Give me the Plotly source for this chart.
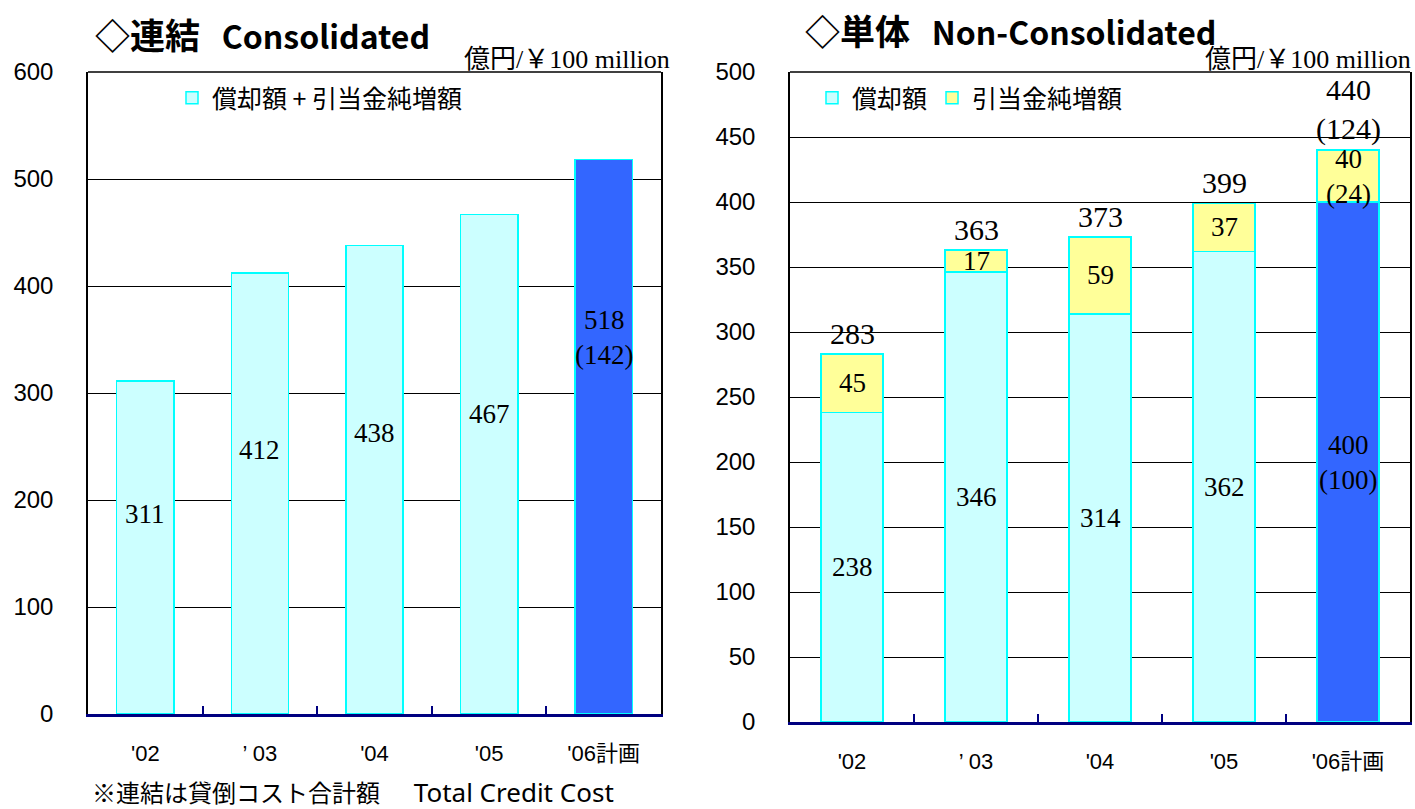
import plotly.graph_objects as go

# ---- data ----
years = ["'02", "’ 03", "'04", "'05", "'06計画"]

cons_total = [311, 412, 438, 467, 518]
cons_note = ["", "", "", "", "(142)"]

nc_amort = [238, 346, 314, 362, 400]
nc_reserve = [45, 17, 59, 37, 40]
nc_total = [283, 363, 373, 399, 440]
nc_amort_note = ["", "", "", "", "(100)"]
nc_reserve_note = ["", "", "", "", "(24)"]
nc_total_note = ["", "", "", "", "(124)"]

cons_legend = "償却額 + 引当金純増額"
nc_legend = ["償却額", "引当金純増額"]
cons_title = ("◇連結", "Consolidated")
nc_title = ("◇単体", "Non-Consolidated")
unit_label = "億円/￥100 million"
footnote = ("※連結は貸倒コスト合計額", "Total Credit Cost")

# ---- styles ----
W, H = 1415, 809
LIGHT = "#CCFFFF"
BLUE = "#3366FF"
YELLOW = "#FFFF99"
EDGE = "#00FFFF"
NAVY = "#000080"
SANS = "Liberation Sans, Noto Sans CJK JP, sans-serif"
CJK = "Noto Sans CJK JP, sans-serif"
SERIF = "Liberation Serif, Noto Sans CJK JP, serif"

plan_colors_cons = [LIGHT] * (len(years) - 1) + [BLUE]
plan_colors_nc = [LIGHT] * (len(years) - 1) + [BLUE]

fig = go.Figure()

fig.add_trace(go.Bar(
    x=years, y=cons_total, name=cons_legend, width=0.5,
    marker=dict(color=plan_colors_cons, line=dict(color=EDGE, width=1.5)),
    xaxis="x", yaxis="y", legend="legend", hoverinfo="skip",
))
fig.add_trace(go.Bar(
    x=years, y=nc_amort, name=nc_legend[0], width=0.5,
    marker=dict(color=plan_colors_nc, line=dict(color=EDGE, width=1.5)),
    xaxis="x2", yaxis="y2", legend="legend2", hoverinfo="skip",
))
fig.add_trace(go.Bar(
    x=years, y=nc_reserve, name=nc_legend[1], width=0.5,
    marker=dict(color=YELLOW, line=dict(color=EDGE, width=1.5)),
    xaxis="x2", yaxis="y2", legend="legend2", hoverinfo="skip",
))

def px_x(p):
    return p / W

def px_y(p):
    return 1 - p / H

xdom1 = [px_x(88), px_x(661)]
xdom2 = [px_x(790), px_x(1410)]
ydom1 = [px_y(714), px_y(72)]
ydom2 = [px_y(722), px_y(72)]

xcommon = dict(
    type="category", showline=True, linecolor=NAVY, linewidth=3,
    ticks="inside", tickson="boundaries", ticklen=8, tickcolor=NAVY, tickwidth=2,
    showgrid=False, zeroline=False,
    tickfont=dict(family=SANS, size=22, color="black"),
    ticklabelstandoff=18,
)
ycommon = dict(
    showline=True, linecolor="black", linewidth=1.5, mirror=True,
    showgrid=True, gridcolor="black", gridwidth=1, zeroline=False, ticks="",
    tickfont=dict(family=SANS, size=24, color="black"),
    ticklabelstandoff=28,
)

legend_font = dict(family=CJK, size=25, color="black")
fig.update_layout(
    width=W, height=H, autosize=False,
    margin=dict(l=0, r=0, t=0, b=0, autoexpand=False),
    paper_bgcolor="white", plot_bgcolor="white",
    barmode="stack", bargap=0.5,
    xaxis=dict(domain=xdom1, anchor="y", **xcommon),
    yaxis=dict(domain=ydom1, anchor="x", range=[0, 600], dtick=100, **ycommon),
    xaxis2=dict(domain=xdom2, anchor="y2", **xcommon),
    yaxis2=dict(domain=ydom2, anchor="x2", range=[0, 500], dtick=50, **ycommon),
    legend=dict(
        orientation="h", x=px_x(172), y=px_y(98), xanchor="left", yanchor="middle",
        bgcolor="rgba(0,0,0,0)", font=legend_font, traceorder="normal",
    ),
    legend2=dict(
        orientation="h", x=px_x(812), y=px_y(98), xanchor="left", yanchor="middle",
        bgcolor="rgba(0,0,0,0)", font=legend_font, traceorder="normal",
    ),
    showlegend=True,
)

# top border lines of the plot frames
for xr, yr in (("x domain", "y domain"), ("x2 domain", "y2 domain")):
    fig.add_shape(type="line", xref=xr, yref=yr, x0=0, x1=1, y0=1, y1=1,
                  line=dict(color="black", width=1.5), layer="above")

annotations = []
inner_font = dict(family=SERIF, size=27, color="black")
total_font = dict(family=SERIF, size=30, color="black")

def join(v, note):
    return str(v) + ("<br>" + note if note else "")

# consolidated labels
for cat, v, n in zip(years, cons_total, cons_note):
    annotations.append(dict(x=cat, y=v * (0.68 if n else 0.6), xref="x", yref="y",
                            text=join(v, n), showarrow=False, font=inner_font))

# non-consolidated labels
for cat, a, r, t, an, rn, tn in zip(years, nc_amort, nc_reserve, nc_total,
                                    nc_amort_note, nc_reserve_note, nc_total_note):
    annotations.append(dict(x=cat, y=a / 2, xref="x2", yref="y2", text=join(a, an),
                            showarrow=False, font=inner_font))
    annotations.append(dict(x=cat, y=a + r / 2, xref="x2", yref="y2", text=join(r, rn),
                            showarrow=False, font=inner_font))
    annotations.append(dict(x=cat, y=t, xref="x2", yref="y2", text=join(t, tn),
                            showarrow=False, font=total_font, yanchor="bottom", yshift=2))

def title_text(parts):
    return ("<b><span style='font-size:35px'>" + parts[0] + "</span>"
            "   <span style='font-size:32px'>" + parts[1] + "</span></b>")

annotations += [
    dict(x=px_x(93), y=px_y(33), xref="paper", yref="paper", xanchor="left", yanchor="middle",
         text=title_text(cons_title), showarrow=False,
         font=dict(family=CJK, size=32, color="black")),
    dict(x=px_x(803), y=px_y(30), xref="paper", yref="paper", xanchor="left", yanchor="middle",
         text=title_text(nc_title), showarrow=False,
         font=dict(family=CJK, size=32, color="black")),
    dict(x=px_x(672), y=px_y(60), xref="paper", yref="paper", xanchor="right", yanchor="middle",
         text=unit_label, showarrow=False, font=dict(family=SERIF, size=26, color="black")),
    dict(x=px_x(1413), y=px_y(60), xref="paper", yref="paper", xanchor="right", yanchor="middle",
         text=unit_label, showarrow=False, font=dict(family=SERIF, size=26, color="black")),
    dict(x=px_x(90), y=px_y(792), xref="paper", yref="paper", xanchor="left", yanchor="middle",
         text="<span style='font-size:24px'>" + footnote[0] + "</span>"
              "<span style='font-family:Noto Sans;font-size:26px'>     " + footnote[1] + "</span>",
         showarrow=False, font=dict(family=CJK, size=24, color="black")),
]
fig.update_layout(annotations=annotations)

fig.write_html("out.html", post_script="document.body.style.margin='0';",
               config={"displayModeBar": False})
